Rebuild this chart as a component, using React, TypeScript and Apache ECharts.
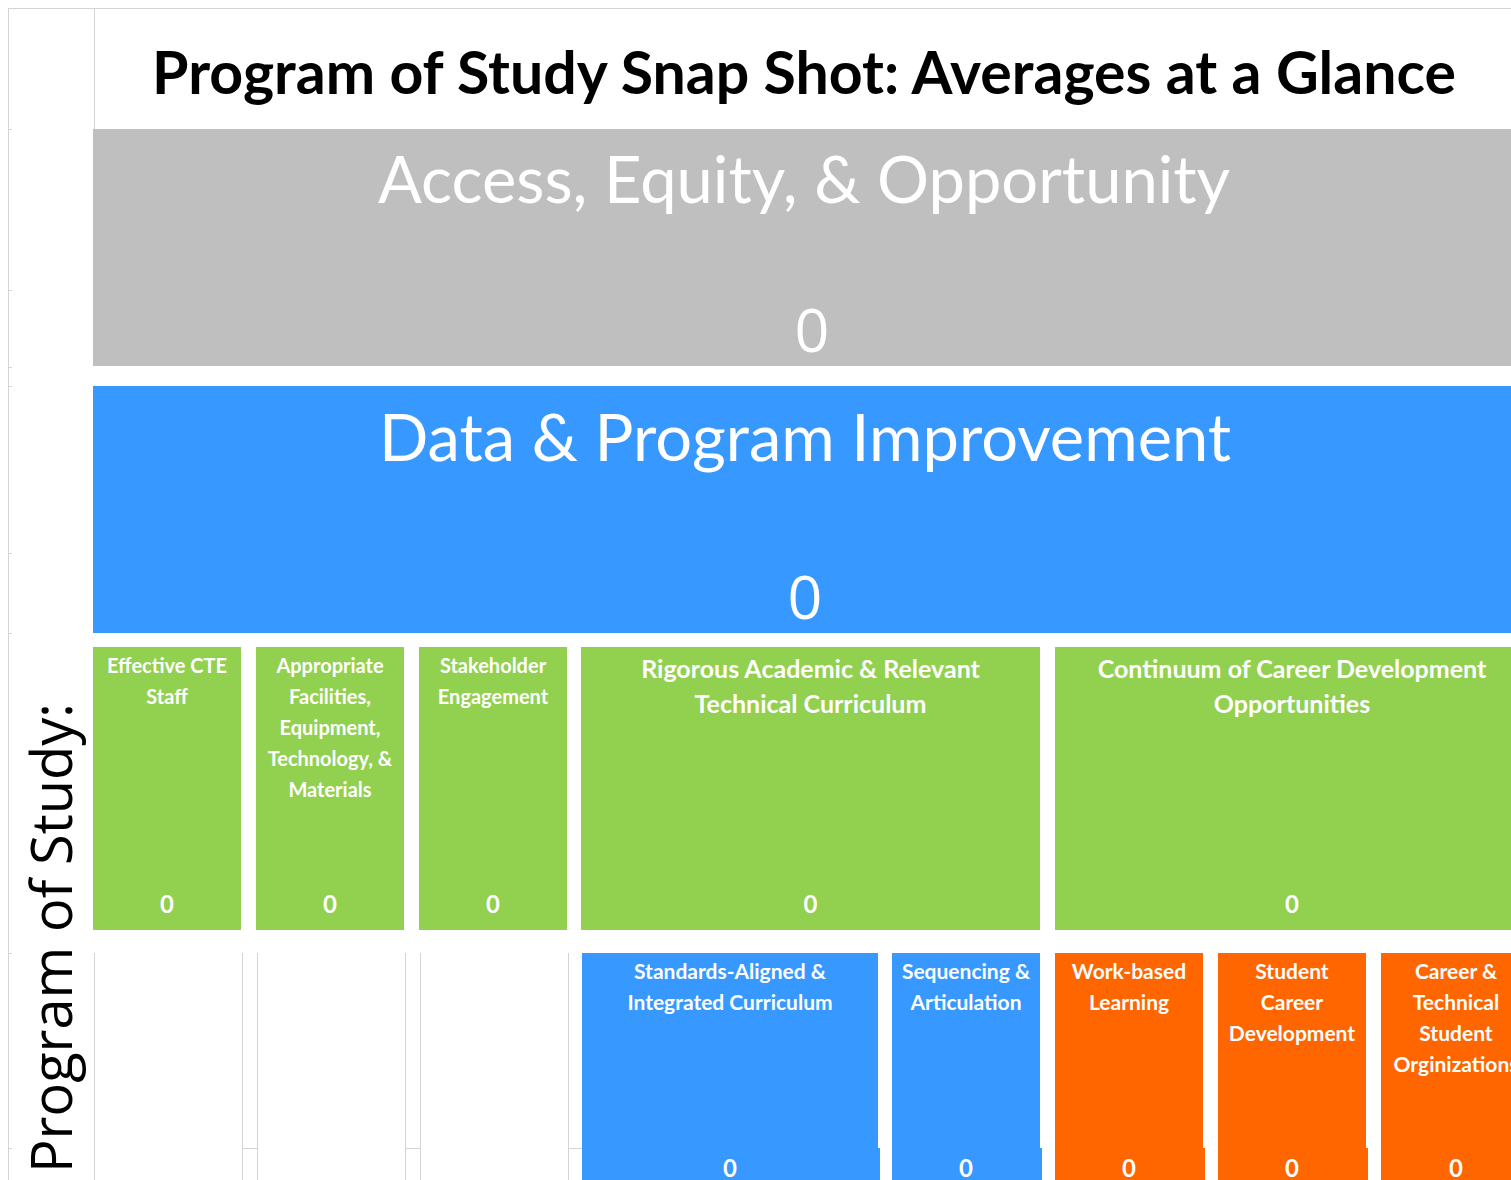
import React, { useEffect, useRef } from "react";
import * as echarts from "echarts";

// ---- Data ----
const TITLE = "Program of Study Snap Shot: Averages at a Glance";
const SIDE_LABEL = "Program of Study:";

const standardNames = ["Access, Equity, & Opportunity", "Data & Program Improvement"];
const standardAverages = [0, 0];

const elementNames = [
  "Effective CTE\nStaff",
  "Appropriate\nFacilities,\nEquipment,\nTechnology, &\nMaterials",
  "Stakeholder\nEngagement",
  "Rigorous Academic & Relevant\nTechnical Curriculum",
  "Continuum of Career Development\nOpportunities",
];
const elementAverages = [0, 0, 0, 0, 0];

const componentNames = [
  "Standards-Aligned &\nIntegrated Curriculum",
  "Sequencing &\nArticulation",
  "Work-based\nLearning",
  "Student\nCareer\nDevelopment",
  "Career &\nTechnical\nStudent\nOrginizations",
];
const componentAverages = [0, 0, 0, 0, 0];

// ---- Layout (sheet coordinates in px) ----
const W = 1511;
const H = 1180;
const GRAY = "#BFBFBF";
const BLUE = "#3799FF";
const GREEN = "#92D050";
const ORANGE = "#FF6600";
const LABEL_FONT = "Lato";

const standardLayout = [
  { x0: 93, x1: 1531, y0: 129, y1: 366, color: GRAY, nameY: 178, nameDx: -8, valueY: 328, size: 65, lh: 72 },
  { x0: 93, x1: 1517, y0: 386, y1: 633, color: BLUE, nameY: 436, nameDx: 0, valueY: 595, size: 65, lh: 72 },
];
const elementLayout = [
  { x0: 93, x1: 241, size: 20, lh: 31, firstY: 665 },
  { x0: 256, x1: 404, size: 20, lh: 31, firstY: 665 },
  { x0: 419, x1: 567, size: 20, lh: 31, firstY: 665 },
  { x0: 581, x1: 1040, size: 25, lh: 35, firstY: 668 },
  { x0: 1055, x1: 1529, size: 25, lh: 35, firstY: 668 },
];
const elementBand = { y0: 647, y1: 930, valueY: 903 };
const componentLayout = [
  { x0: 582, x1: 878, color: BLUE },
  { x0: 892, x1: 1040, color: BLUE },
  { x0: 1055, x1: 1203, color: ORANGE },
  { x0: 1218, x1: 1366, color: ORANGE },
  { x0: 1381, x1: 1531, color: ORANGE },
];
const componentBand = { y0: 953, split: 1148, y1: 1180, firstY: 970, lh: 31, size: 21, valueY: 1167 };
const VALUE_SIZE = 24;
const VALUE_LH = 24;

function textEl(text: string, x: number, y: number, size: number, weight: any, lh: number, family = LABEL_FONT) {
  return {
    type: "text",
    style: {
      text,
      x,
      y,
      fill: "#FFFFFF",
      fontSize: size,
      fontWeight: weight,
      fontFamily: family,
      lineHeight: lh,
      align: "center",
      verticalAlign: "top",
    },
  };
}

export default function App() {
  const ref = useRef<HTMLDivElement>(null);

  useEffect(() => {
    document.body.style.margin = "0";
    if (!ref.current) return;
    const chart = echarts.init(ref.current, undefined, { renderer: "svg" });

    const standardData = standardNames.map((n, i) => ({ name: n, value: [i, standardAverages[i]] }));
    const elementData = elementNames.map((n, i) => ({ name: n, value: [i, elementAverages[i]] }));
    const componentData = componentNames.map((n, i) => ({ name: n, value: [i, componentAverages[i]] }));

    const gridColor = "#D4D4D4";
    const line = (x1: number, y1: number, x2: number, y2: number) => ({
      type: "line",
      silent: true,
      shape: { x1, y1, x2, y2 },
      style: { stroke: gridColor, lineWidth: 1 },
      z: 1,
    });

    const gridLines: any[] = [
      line(8, 8.5, W, 8.5),
      line(8.5, 8, 8.5, H),
      line(94.5, 8, 94.5, 129),
    ];
    [94.5, 242.5, 257.5, 405.5, 420.5, 568.5].forEach((x) => gridLines.push(line(x, 953, x, H)));
    [[242, 257], [405, 420], [568, 582]].forEach(([a, b]) => gridLines.push(line(a, 1148.5, b, 1148.5)));
    [129.5, 290.5, 367.5, 386.5, 553.5, 633.5, 953.5, 1148.5].forEach((y) => gridLines.push(line(8, y, 12, y)));

    const option: any = {
      animation: false,
      backgroundColor: "#FFFFFF",
      grid: { left: 0, right: 0, top: 0, bottom: 0 },
      xAxis: { type: "value", min: 0, max: W, show: false },
      yAxis: { type: "value", min: 0, max: H, inverse: true, show: false },
      graphic: [
        ...gridLines,
        {
          type: "text",
          x: 804,
          y: 71,
          z: 10,
          style: {
            text: TITLE,
            fill: "#000000",
            fontSize: 59,
            fontWeight: "bold",
            fontFamily: LABEL_FONT,
            align: "center",
            verticalAlign: "middle",
          },
        },
        {
          type: "text",
          x: 50,
          y: 938,
          rotation: Math.PI / 2,
          z: 10,
          style: {
            text: SIDE_LABEL,
            fill: "#000000",
            fontSize: 56,
            fontWeight: "normal",
            fontFamily: "Open Sans",
            align: "center",
            verticalAlign: "middle",
          },
        },
      ],
      series: [
        {
          type: "custom",
          name: "Standards",
          data: standardData,
          renderItem: (params: any, api: any) => {
            const L = standardLayout[params.dataIndex];
            const p0 = api.coord([L.x0, L.y0]);
            const p1 = api.coord([L.x1, L.y1]);
            const cx = (p0[0] + p1[0]) / 2;
            const name = standardNames[params.dataIndex];
            return {
              type: "group",
              children: [
                { type: "rect", shape: { x: p0[0], y: p0[1], width: p1[0] - p0[0], height: p1[1] - p0[1] }, style: { fill: L.color } },
                textEl(name, cx + L.nameDx, api.coord([0, L.nameY])[1] - L.lh / 2, L.size, "normal", L.lh),
                textEl(String(api.value(1)), cx, api.coord([0, L.valueY])[1] - L.lh / 2, L.size - 4, "normal", L.lh, "Open Sans"),
              ],
            };
          },
        },
        {
          type: "custom",
          name: "Elements",
          data: elementData,
          renderItem: (params: any, api: any) => {
            const L = elementLayout[params.dataIndex];
            const p0 = api.coord([L.x0, elementBand.y0]);
            const p1 = api.coord([L.x1, elementBand.y1]);
            const cx = (p0[0] + p1[0]) / 2;
            return {
              type: "group",
              children: [
                { type: "rect", shape: { x: p0[0], y: p0[1], width: p1[0] - p0[0], height: p1[1] - p0[1] }, style: { fill: GREEN } },
                textEl(elementNames[params.dataIndex], cx, api.coord([0, L.firstY])[1] - L.lh / 2, L.size, "bold", L.lh),
                textEl(String(api.value(1)), cx, api.coord([0, elementBand.valueY])[1] - VALUE_LH / 2, VALUE_SIZE, "bold", VALUE_LH),
              ],
            };
          },
        },
        {
          type: "custom",
          name: "Components",
          data: componentData,
          renderItem: (params: any, api: any) => {
            const L = componentLayout[params.dataIndex];
            const B = componentBand;
            const p0 = api.coord([L.x0, B.y0]);
            const ps = api.coord([L.x1, B.split]);
            const pe = api.coord([L.x1 + 2, B.y1]);
            const cx = (p0[0] + ps[0]) / 2;
            return {
              type: "group",
              children: [
                { type: "rect", shape: { x: p0[0], y: p0[1], width: ps[0] - p0[0], height: ps[1] - p0[1] }, style: { fill: L.color } },
                { type: "rect", shape: { x: p0[0], y: ps[1], width: pe[0] - p0[0], height: pe[1] - ps[1] }, style: { fill: L.color } },
                textEl(componentNames[params.dataIndex], cx, api.coord([0, B.firstY])[1] - B.lh / 2, B.size, "bold", B.lh),
                textEl(String(api.value(1)), cx, api.coord([0, B.valueY])[1] - VALUE_LH / 2, VALUE_SIZE, "bold", VALUE_LH),
              ],
            };
          },
        },
      ],
    };

    chart.setOption(option);
    return () => chart.dispose();
  }, []);

  return <div ref={ref} style={{ width: W, height: H }} />;
}
